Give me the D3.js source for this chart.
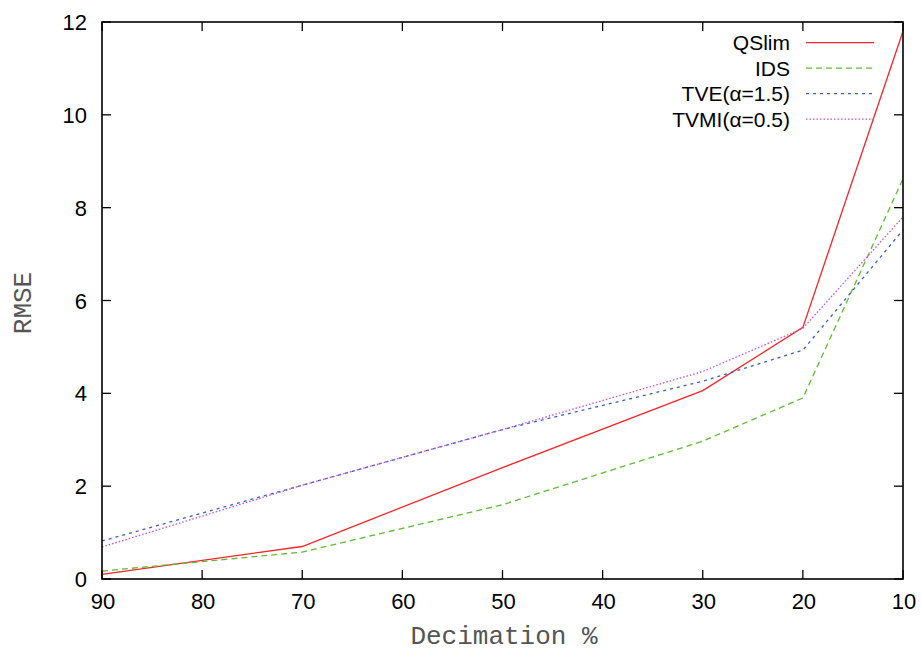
<!DOCTYPE html>
<html>
<head>
<meta charset="utf-8">
<style>
  body { margin: 0; background: #fff; }
  text { font-family: "Liberation Sans", Arial, sans-serif; }
</style>
</head>
<body>
<svg width="921" height="654"></svg>
<script src="https://d3js.org/d3.v7.min.js"></script>
<script>

  var decimation = [90, 70, 50, 30, 20, 10];
  var xTicks = [90, 80, 70, 60, 50, 40, 30, 20, 10];
  var yTicks = [0, 2, 4, 6, 8, 10, 12];

  var qslim = [0.10, 0.70, 2.40, 4.06, 5.42, 11.80];
  var ids   = [0.17, 0.58, 1.60, 2.97, 3.90, 8.62];
  var tve   = [0.82, 2.02, 3.22, 4.26, 4.93, 7.52];
  var tvmi  = [0.69, 2.02, 3.22, 4.47, 5.40, 7.80];

  var series = [
    {name: "QSlim",   values: qslim, color: "#f0262a", dash: null},
    {name: "IDS",     values: ids,   color: "#5fbb37", dash: "6,4"},
    {name: "TVE(α=1.5)",  values: tve,  color: "#3a5fbe", dash: "3,4"},
    {name: "TVMI(α=0.5)", values: tvmi, color: "#c84fc0", dash: "1.5,2"}
  ];

  var svg = d3.select("svg"),
      margin = {top: 22, right: 18, bottom: 75, left: 102},
      width = 921 - margin.left - margin.right,
      height = 654 - margin.top - margin.bottom;

  var x = d3.scaleLinear().domain([90, 10]).range([0, width]),
      y = d3.scaleLinear().domain([0, 12]).range([height, 0]);

  var g = svg.append("g").attr("transform", "translate(" + margin.left + "," + margin.top + ")");

  // mirrored inward ticks, gnuplot style
  var tickLen = 9;
  var ticks = g.append("g").attr("stroke", "#000").attr("stroke-width", 1.3);
  xTicks.forEach(function(t) {
    ticks.append("line").attr("x1", x(t)).attr("x2", x(t)).attr("y1", height).attr("y2", height - tickLen);
    ticks.append("line").attr("x1", x(t)).attr("x2", x(t)).attr("y1", 0).attr("y2", tickLen);
  });
  yTicks.forEach(function(t) {
    ticks.append("line").attr("x1", 0).attr("x2", tickLen).attr("y1", y(t)).attr("y2", y(t));
    ticks.append("line").attr("x1", width).attr("x2", width - tickLen).attr("y1", y(t)).attr("y2", y(t));
  });

  g.selectAll(".xlab").data(xTicks).enter().append("text")
      .attr("x", function(d) { return x(d) + 1; })
      .attr("y", height + 30)
      .attr("text-anchor", "middle")
      .attr("font-size", 22)
      .text(function(d) { return d; });

  g.selectAll(".ylab").data(yTicks).enter().append("text")
      .attr("x", -15)
      .attr("y", function(d) { return y(d) + 8; })
      .attr("text-anchor", "end")
      .attr("font-size", 22)
      .text(function(d) { return d; });

  var line = d3.line()
      .x(function(d, i) { return x(decimation[i]); })
      .y(function(d) { return y(d); });

  series.forEach(function(s) {
    g.append("path")
        .attr("d", line(s.values))
        .attr("fill", "none")
        .attr("stroke", s.color)
        .attr("stroke-width", 1.3)
        .attr("stroke-dasharray", s.dash);
  });

  // legend
  var legend = g.append("g");
  series.forEach(function(s, i) {
    var ly = 20.7 + i * 25.5;
    legend.append("text")
        .attr("x", 688)
        .attr("y", ly + 7.5)
        .attr("text-anchor", "end")
        .attr("font-size", 21)
        .text(s.name);
    legend.append("line")
        .attr("x1", 704).attr("x2", 772)
        .attr("y1", ly).attr("y2", ly)
        .attr("stroke", s.color)
        .attr("stroke-width", 1.3)
        .attr("stroke-dasharray", s.dash);
  });

  // frame
  g.append("rect")
      .attr("width", width).attr("height", height)
      .attr("fill", "none").attr("stroke", "#000").attr("stroke-width", 1.6);

  var monoFont = "'Courier New', Courier, 'Nimbus Mono PS', FreeMono, 'Liberation Mono', monospace";

  svg.append("text")
      .attr("x", 504)
      .attr("y", 644)
      .attr("text-anchor", "middle")
      .attr("font-size", 26)
      .attr("fill", "#555")
      .style("font-family", monoFont)
      .text("Decimation %");

  svg.append("text")
      .attr("transform", "translate(31," + 303 + ") rotate(-90)")
      .attr("text-anchor", "middle")
      .attr("font-size", 26)
      .attr("fill", "#555")
      .style("font-family", monoFont)
      .text("RMSE");

</script>
</body>
</html>
